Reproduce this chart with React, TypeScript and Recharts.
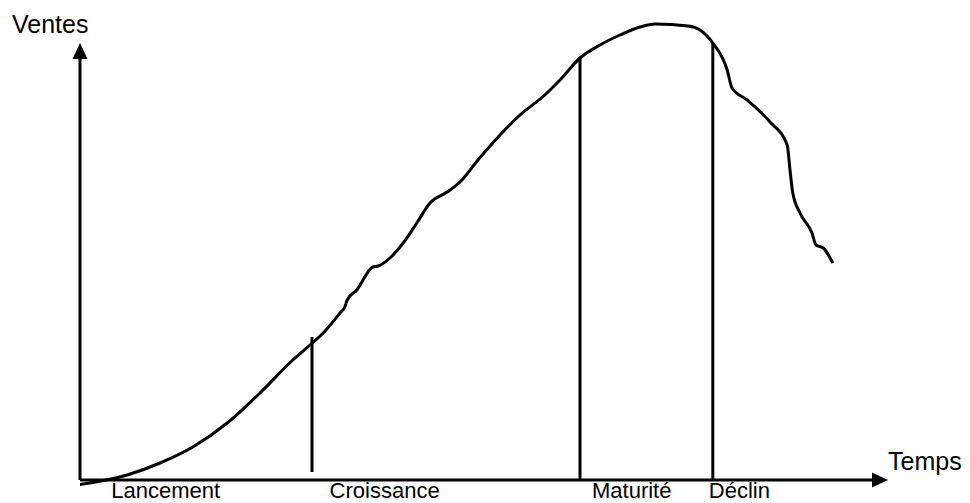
import { ComposedChart, Line, XAxis, YAxis, ReferenceLine, ReferenceDot } from "recharts";

// courbe du cycle de vie (temps, ventes)
const time = [
  -0.4, 5.9, 10, 14.1, 18.4, 22.5, 26.6, 28.75, 30.4, 32.5, 33.1, 33.4, 34.6, 36.6, 37.25, 38.75,
  40.4, 42.1, 43.75, 45.9, 47.5, 49.75, 52.5, 55, 58.1, 60, 62.5, 65, 67.5, 70, 71.9, 76, 77.5,
  79.1, 80.9, 81.5, 83.4, 86.25, 88.4, 88.75, 89.1, 90, 91.5, 92, 92.9, 94.1,
];
const sales = [
  -1.25, 1.25, 4.25, 8.25, 14.25, 21.75, 30, 33.75, 36.75, 41.75, 43.25, 45, 47.5, 53.25, 53.5,
  55.5, 59.25, 64.25, 69.25, 72, 74.5, 80, 86.25, 91.25, 96.25, 100, 105.5, 108.75, 111.25,
  113.25, 114, 113.5, 112.5, 109.25, 102.5, 98, 95, 89.5, 83.75, 77.5, 71.75, 66.75, 61.75,
  58.75, 58, 54.25,
];

// séparations entre les phases
const phaseAt = [29, 62.5, 79.1];
const phaseTop = [35.75, 105.75, 109.25];
const phaseBottom = [2, 0, 0];

const phaseNames = ["Lancement", "Croissance", "Maturité", "Déclin"];
const phaseLabelAt = [3.9, 31.2, 64, 78.6];

const xArrowEnd = 101;
const yArrowEnd = 109.25;

const data = time.map((t, i) => ({ t, v: sales[i] }));

const Arrow = (props: any) => {
  const { x1, y1, x2, y2 } = props;
  const dx = x2 - x1;
  const dy = y2 - y1;
  const len = Math.hypot(dx, dy) || 1;
  const ux = dx / len;
  const uy = dy / len;
  const hl = 16;
  const hw = 7.5;
  const bx = x2 - ux * hl;
  const by = y2 - uy * hl;
  const pts = `${x2},${y2} ${bx - uy * hw},${by + ux * hw} ${bx + uy * hw},${by - ux * hw}`;
  return (
    <g>
      <line x1={x1} y1={y1} x2={bx} y2={by} stroke="#000" strokeWidth={3} />
      <polygon points={pts} fill="#000" />
    </g>
  );
};

const textShape = (label: string, size = 25) => (props: any) => (
  <text
    x={props.cx}
    y={props.cy}
    textAnchor="start"
    fontFamily="'Liberation Sans', Arial, sans-serif"
    fontSize={size}
    fill="#000"
  >
    {label}
  </text>
);

export default function App() {
  return (
    <div style={{ position: "absolute", left: 0, top: 0, background: "#fff" }}>
      <ComposedChart
        width={970}
        height={503}
        data={data}
        margin={{ top: 0, right: 10, bottom: 3, left: 80 }}
      >
        <XAxis dataKey="t" type="number" domain={[0, 110]} hide allowDataOverflow />
        <YAxis type="number" domain={[-5, 120]} hide allowDataOverflow />
        <ReferenceLine
          segment={[{ x: 0, y: 0 }, { x: xArrowEnd, y: 0 }]}
          shape={Arrow}
          ifOverflow="visible"
        />
        <ReferenceLine
          segment={[{ x: 0, y: 0 }, { x: 0, y: yArrowEnd }]}
          shape={Arrow}
          ifOverflow="visible"
        />
        {phaseAt.map((x, i) => (
          <ReferenceLine
            key={i}
            segment={[{ x, y: phaseBottom[i] }, { x, y: phaseTop[i] }]}
            stroke="#000"
            strokeWidth={3}
            ifOverflow="visible"
          />
        ))}
        <Line
          dataKey="v"
          type="monotone"
          stroke="#000"
          strokeWidth={3}
          dot={false}
          isAnimationActive={false}
        />
        {phaseNames.map((name, i) => (
          <ReferenceDot
            key={name}
            x={phaseLabelAt[i]}
            y={-4.5}
            r={0}
            ifOverflow="visible"
            shape={textShape(name, 22)}
          />
        ))}
        <ReferenceDot x={-8.5} y={111.75} r={0} ifOverflow="visible" shape={textShape("Ventes")} />
        <ReferenceDot x={101} y={2.5} r={0} ifOverflow="visible" shape={textShape("Temps")} />
      </ComposedChart>
    </div>
  );
}
